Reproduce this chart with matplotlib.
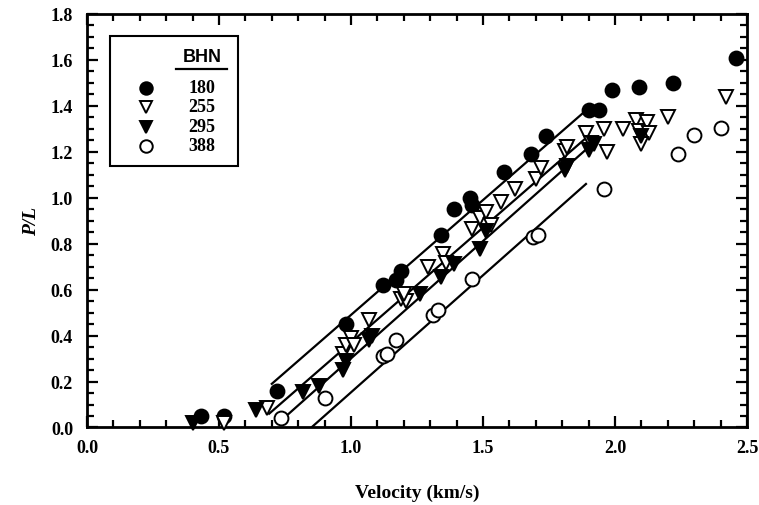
import matplotlib
matplotlib.use("Agg")
import matplotlib.pyplot as plt
from matplotlib.ticker import MultipleLocator, FormatStrFormatter
from matplotlib.patches import Rectangle

# ---- data: P/L versus impact velocity for four hardnesses ----
v_180 = [0.43, 0.52, 0.72, 0.98, 1.12, 1.17, 1.19, 1.34, 1.39, 1.45, 1.46,
         1.58, 1.68, 1.74, 1.90, 1.94, 1.99, 2.09, 2.22, 2.46]
p_180 = [0.05, 0.05, 0.16, 0.45, 0.62, 0.64, 0.68, 0.84, 0.95, 1.00, 0.97,
         1.11, 1.19, 1.27, 1.38, 1.38, 1.47, 1.48, 1.50, 1.61]

v_255 = [0.52, 0.68, 0.97, 0.98, 1.00, 1.01, 1.07, 1.19, 1.21, 1.20, 1.29,
         1.35, 1.36, 1.46, 1.49, 1.51, 1.53, 1.57, 1.62, 1.70, 1.72, 1.81,
         1.82, 1.89, 1.91, 1.96, 1.97, 2.03, 2.08, 2.09, 2.12, 2.13, 2.10,
         2.20, 2.42]
p_255 = [0.02, 0.085, 0.32, 0.36, 0.39, 0.36, 0.47, 0.56, 0.55, 0.58, 0.70,
         0.755, 0.715, 0.865, 0.91, 0.94, 0.88, 0.98, 1.04, 1.08, 1.13, 1.205,
         1.22, 1.28, 1.24, 1.30, 1.20, 1.30, 1.34, 1.29, 1.33, 1.28, 1.235,
         1.35, 1.44]

v_295 = [0.40, 0.64, 0.82, 0.88, 0.97, 0.98, 1.07, 1.08, 1.26, 1.34, 1.39,
         1.49, 1.51, 1.81, 1.82, 1.90, 1.92, 2.10]
p_295 = [0.02, 0.075, 0.155, 0.18, 0.25, 0.29, 0.38, 0.40, 0.58, 0.655,
         0.71, 0.775, 0.855, 1.12, 1.14, 1.21, 1.235, 1.27]

v_388 = [0.735, 0.90, 1.12, 1.135, 1.17, 1.31, 1.33, 1.46, 1.69, 1.71,
         1.96, 2.24, 2.30, 2.40]
p_388 = [0.04, 0.13, 0.31, 0.32, 0.38, 0.49, 0.51, 0.645, 0.83, 0.84,
         1.04, 1.19, 1.275, 1.305]

# linear fits: start / end points of each fitted line
fit_v0 = [0.70, 0.69, 0.74, 0.85]
fit_p0 = [0.19, 0.06, 0.035, 0.00]
fit_v1 = [1.88, 1.89, 1.90, 1.89]
fit_p1 = [1.37, 1.26, 1.22, 1.06]

bhn_labels = ["180", "255", "295", "388"]

# ---- figure ----
fig = plt.figure(figsize=(7.59, 5.06), dpi=100)
ax = fig.add_axes([0.1146, 0.1532, 0.8696, 0.8172])

serif = "Liberation Serif"
ms = 10
styles = [
    dict(marker="o", mfc="black", mec="black"),
    dict(marker="v", mfc="white", mec="black"),
    dict(marker="v", mfc="black", mec="black"),
    dict(marker="o", mfc="white", mec="black"),
]
series = [(v_180, p_180), (v_255, p_255), (v_295, p_295), (v_388, p_388)]

for i in range(4):
    ax.plot([fit_v0[i], fit_v1[i]], [fit_p0[i], fit_p1[i]],
            color="black", lw=1.6, zorder=2)

for (vx, py), st in zip(series, styles):
    ax.plot(vx, py, ls="none", ms=ms, mew=1.4, zorder=3, clip_on=False, **st)

ax.set_xlim(0, 2.5)
ax.set_ylim(0, 1.8)
ax.xaxis.set_major_locator(MultipleLocator(0.5))
ax.xaxis.set_minor_locator(MultipleLocator(0.1))
ax.yaxis.set_major_locator(MultipleLocator(0.2))
ax.yaxis.set_minor_locator(MultipleLocator(0.05))
ax.tick_params(which="both", direction="in", top=True, right=True,
               width=1.6, color="black")
ax.tick_params(which="major", length=8, labelsize=13)
ax.tick_params(axis="x", which="major", pad=8)
ax.tick_params(axis="y", which="major", pad=10)
ax.tick_params(which="minor", length=5)
ax.xaxis.set_major_formatter(FormatStrFormatter("%.1f"))
ax.yaxis.set_major_formatter(FormatStrFormatter("%.1f"))
for lab in ax.get_xticklabels() + ax.get_yticklabels():
    lab.set_fontfamily(serif)
    lab.set_fontweight("bold")
for s in ax.spines.values():
    s.set_linewidth(2)

ax.set_xlabel("Velocity (km/s)", fontfamily=serif, fontweight="bold",
              fontsize=14, labelpad=20)
ax.set_ylabel("P/L", fontfamily=serif, fontweight="bold", fontstyle="italic",
              fontsize=14, labelpad=8)

# ---- legend box ----
def fx(px):
    return (px - 87) / 660.0

def fy(py):
    return (428.5 - py) / 413.5

ax.add_patch(Rectangle((fx(110), fy(167)), fx(238) - fx(110), fy(37) - fy(167),
                       transform=ax.transAxes, fill=False, lw=1.5,
                       edgecolor="black", zorder=5))
ax.text(fx(202), fy(58), "BHN", transform=ax.transAxes, ha="center",
        va="center", fontsize=13, fontweight="bold", fontfamily="Liberation Sans")
ax.plot([fx(176), fx(227)], [fy(70), fy(70)], transform=ax.transAxes,
        color="black", lw=1.6)
rows_y = [89, 108, 128, 147]
for st, lab, ry in zip(styles, bhn_labels, rows_y):
    ax.plot([fx(146)], [fy(ry)], transform=ax.transAxes, ls="none",
            ms=9, mew=1.4, **st)
    ax.text(fx(202), fy(ry), lab, transform=ax.transAxes, ha="center",
            va="center", fontsize=13, fontweight="bold", fontfamily=serif)

fig.savefig("out.png", dpi=100)
